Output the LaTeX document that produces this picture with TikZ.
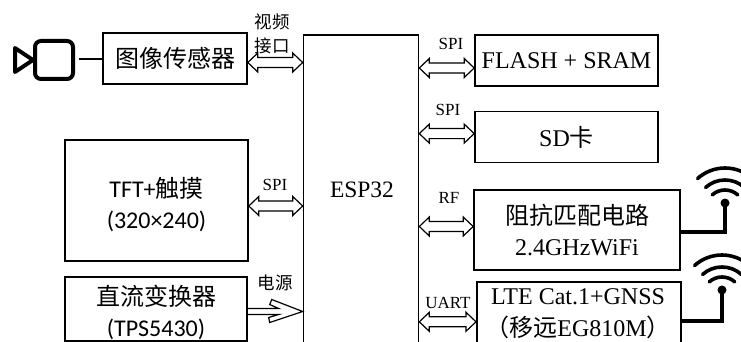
\documentclass[tikz,border=0pt]{standalone}
\usepackage{fontspec}
\usepackage{tikz}
\usetikzlibrary{arrows.meta,positioning,calc}
\setmainfont{Liberation Serif}
\newfontfamily\cjk{Noto Sans CJK SC}
\newfontfamily\carlito{Carlito}
\newcommand{\lowerline}{\rule{0pt}{28pt}}

\tikzset{
    blockbox/.style={draw, line width=1.6pt, inner sep=0pt, align=center, font=\fontsize{24}{31}\selectfont},
    busarrow/.style={draw, line width=1.2pt, to path={
        -- ++(10,-9.5) -- ++(0,4.5) -- ($(\tikztotarget)+(-10,-5)$) -- ++(0,-4.5) -- (\tikztotarget)
        -- ++(-10,9.5) -- ++(0,-4.5) -- ($(\tikztostart)+(10,5)$) -- ++(0,4.5) -- cycle}},
    powerarrow/.style={draw, line width=1.2pt, to path={
        ($(\tikztostart)+(0,-3)$) -- ($(\tikztotarget)+(-24,-3)$) -- ++(-9,-4) -- ++(2,-5) -- (\tikztotarget)
        -- ++(-33,11) -- ++(-1,-5) -- ++(10,-3) -- ($(\tikztostart)+(0,3)$)}},
    buslabel/.style={font=\fontsize{17}{20}\selectfont, inner sep=0pt},
    antline/.style={line width=3.2pt},
    antarc/.style={line width=3.6pt, line cap=round}
}

\begin{document}
\begin{tikzpicture}[x=1pt, y=-1pt]
    \useasboundingbox (0,0) rectangle (741,342);
    \clip (0,0) rectangle (741,342);
    % left column
    \node[blockbox, minimum width=144pt, minimum height=51pt] (sensor) at (175,58.5) {\cjk 图像传感器};
    \node[blockbox, minimum width=183pt, minimum height=121pt] (tft) at (156.5,200.5) {\lowerline\carlito TFT+\cjk 触摸\\\carlito (320×240)};
    \node[blockbox, minimum width=182pt, minimum height=64pt] (dcdc) at (156,309) {\lowerline\cjk 直流变换器\\\carlito (TPS5430)};
    % center, runs past the lower edge
    \node[blockbox, minimum width=115pt, minimum height=340pt] (esp) at (361,205) {};
    \node[font=\fontsize{23.5}{28}\selectfont] (esplabel) at (362,190) {ESP32};
    % right column
    \node[blockbox, minimum width=183pt, minimum height=51pt] (flash) at (566.5,60.5) {FLASH + SRAM};
    \node[blockbox, below=24pt of flash, minimum width=183pt, minimum height=51pt] (sd) {SD\cjk 卡};
    \node[blockbox, minimum width=206pt, minimum height=80pt] (rf) at (577,230) {\cjk 阻抗匹配电路\\2.4GHzWiFi};
    \node[blockbox, minimum width=204pt, minimum height=80pt, anchor=north west] (lte) at (476,281) {};
    \node[font=\fontsize{24}{32}\selectfont, align=center] (ltelabel) at (578,314) {LTE Cat.1+GNSS\\{\cjk （移远}EG810M{\cjk ）}};
    % bus connectors
    \draw[busarrow] ([yshift=-4pt]sensor.east) to ([yshift=-4pt]sensor.east -| esp.west);
    \draw[busarrow] ([yshift=-5.5pt]tft.east) to ([yshift=-5.5pt]tft.east -| esp.west);
    \draw[powerarrow] ([yshift=-2.5pt]dcdc.east) to ([yshift=-2.5pt]dcdc.east -| esp.west);
    \draw[busarrow] ([yshift=-7.5pt]flash.west -| esp.east) to ([yshift=-7.5pt]flash.west);
    \draw[busarrow] ([yshift=3.5pt]sd.west -| esp.east) to ([yshift=3.5pt]sd.west);
    \draw[busarrow] ([yshift=3.5pt]rf.west -| esp.east) to ([yshift=3.5pt]rf.west);
    \draw[busarrow] (lte.west -| esp.east) to (lte.west);
    % bus labels
    \node[buslabel, align=center, font=\cjk\fontsize{17.5}{24}\selectfont] (videolabel) at (272,34) {视频\\接口};
    \node[buslabel] (tftlabel) at (275,185) {SPI};
    \node[buslabel, font=\cjk\fontsize{17.5}{20}\selectfont] (powerlabel) at (275,283) {电源};
    \node[buslabel] (flashlabel) at (451,44) {SPI};
    \node[buslabel] (sdlabel) at (448,110) {SPI};
    \node[buslabel] (rflabel) at (449,198) {RF};
    \node[buslabel] (ltelink) at (448,303) {UART};
    % camera
    \node[draw, line width=4pt, rounded corners=6pt, minimum size=38pt, inner sep=0pt] (cambody) at (54,60) {};
    \draw[line width=4pt, line join=round] (33,60) -- (15,48) -- (15,72) -- cycle;
    \coordinate (camout) at (79,59);
    \draw[line width=2.2pt] (camout) -- (camout -| sensor.west);
    % antennas
    \foreach \dotx/\doty/\ante in {725/203/232, 722/290/321} {
        \fill (\dotx,\doty) circle (4.5pt);
        \coordinate (boxout) at (680,\ante);
        \draw[antline] (\dotx,\doty) -- (\dotx,\ante) -- (boxout);
        \foreach \rad in {19,29,41}
            \draw[antarc] (\dotx,\doty+6) ++(-48:\rad) arc (-48:-132:\rad);
    }
\end{tikzpicture}
\end{document}
